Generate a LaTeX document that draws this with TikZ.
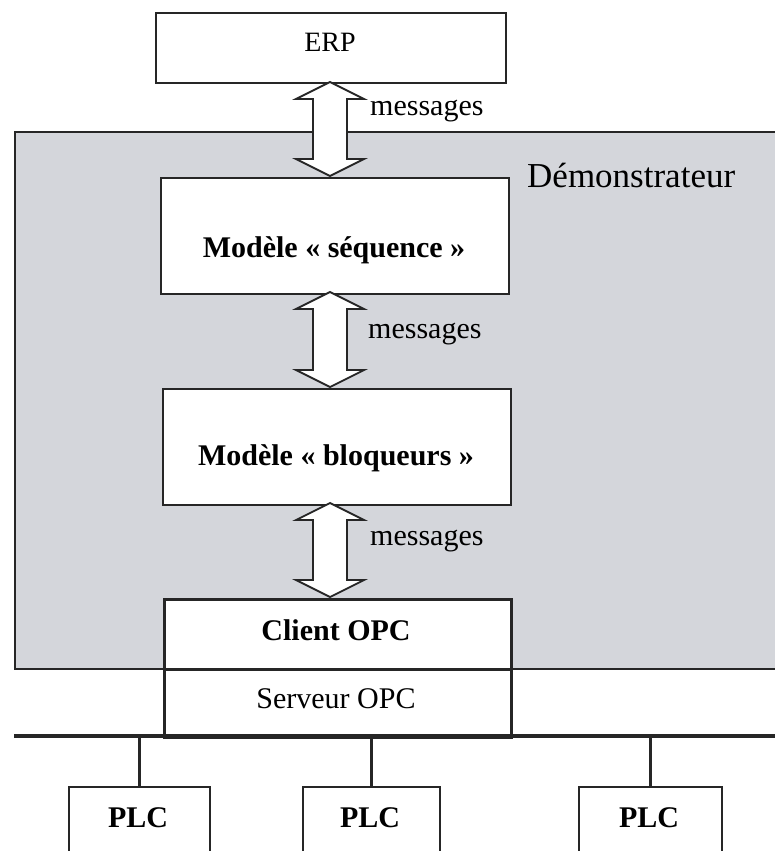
\documentclass[tikz,border=0pt]{standalone}
\usepackage{fontspec}
\setmainfont{Liberation Serif}
\usetikzlibrary{calc}
\definecolor{demogray}{RGB}{212,214,219}
\tikzset{
  box/.style={draw=black!85, line width=2.2pt, fill=white, anchor=north west, inner sep=0pt},
  txt/.style={anchor=base, inner sep=0pt, font=\fontsize{30}{36}\selectfont},
  btxt/.style={txt, font=\fontsize{30}{36}\selectfont\bfseries},
  msg/.style={anchor=base west, inner sep=0pt, font=\fontsize{30}{36}\selectfont},
  dbl/.style={draw=black!85, fill=white, line width=1.8pt, line join=miter},
  wire/.style={draw=black!85, line width=3.2pt}
}
\newcommand{\dblarr}[2]{%
  \path let \p1=(#1), \p2=(#2) in [dbl]
    (\x1,\y1) -- (\x1+34pt,\y1-17pt) -- (\x1+17pt,\y1-17pt) -- (\x1+17pt,\y2+17pt)
    -- (\x1+34pt,\y2+17pt) -- (\x1,\y2) -- (\x1-34pt,\y2+17pt) -- (\x1-17pt,\y2+17pt)
    -- (\x1-17pt,\y1-17pt) -- (\x1-34pt,\y1-17pt) -- cycle;}
\begin{document}
\begin{tikzpicture}[x=1pt,y=-1pt]
\useasboundingbox (0,0) rectangle (775,851);
% Demonstrateur area
\node[draw=black!85, line width=1.6pt, fill=demogray, anchor=north west, minimum width=780pt, minimum height=537pt, inner sep=0pt] (demo) at (14,131) {};
\node[anchor=base west, inner sep=0pt, font=\fontsize{35}{40}\selectfont] (demolbl) at (527,187) {Démonstrateur};
% boxes
\node[box, minimum width=350pt, minimum height=70pt] (erp) at (155,12) {};
\node[box, minimum width=348pt, minimum height=116pt] (seq) at (160,177) {};
\node[box, minimum width=348pt, minimum height=116pt] (blo) at (162,388) {};
\node[box, line width=2.6pt, minimum width=347pt, minimum height=70pt] (cli) at (163,598) {};
\node[box, line width=2.6pt, minimum width=347pt, minimum height=68pt] (srv) at (163,668) {};
% labels
\node[txt, font=\fontsize{28}{34}\selectfont] (erpt) at (330,52) {ERP};
\node[btxt] (seqt) at (334,257) {Modèle « séquence »};
\node[btxt] (blot) at (336,465) {Modèle « bloqueurs »};
\node[btxt] (clit) at (336,640) {Client OPC};
\node[txt] (srvt) at (336,708) {Serveur OPC};
% arrows
\coordinate (a1) at (330,82);  \coordinate (b1) at (330,176);
\coordinate (a2) at (330,292); \coordinate (b2) at (330,387);
\coordinate (a3) at (330,503); \coordinate (b3) at (330,597);
\dblarr{a1}{b1}
\dblarr{a2}{b2}
\dblarr{a3}{b3}
\node[msg] (m1) at (370,115) {messages};
\node[msg] (m2) at (368,338) {messages};
\node[msg] (m3) at (370,545) {messages};
% bus
\coordinate (busL) at (14,736);
\coordinate (busR) at (790,736);
\draw[wire, line width=4.5pt] (busL) -- (busR);
% PLCs
\node[box, minimum width=141pt, minimum height=100pt] (plc1) at (68,786) {};
\node[box, minimum width=137pt, minimum height=100pt] (plc2) at (302,786) {};
\node[box, minimum width=143pt, minimum height=100pt] (plc3) at (578,786) {};
\node[btxt] (p1t) at (138,827) {PLC};
\node[btxt] (p2t) at (370,827) {PLC};
\node[btxt] (p3t) at (649,827) {PLC};
\draw[wire] (plc1.north) -- (plc1.north |- busL);
\draw[wire] (plc2.north) -- (plc2.north |- busL);
\draw[wire] (plc3.north) -- (plc3.north |- busL);
\end{tikzpicture}
\end{document}
